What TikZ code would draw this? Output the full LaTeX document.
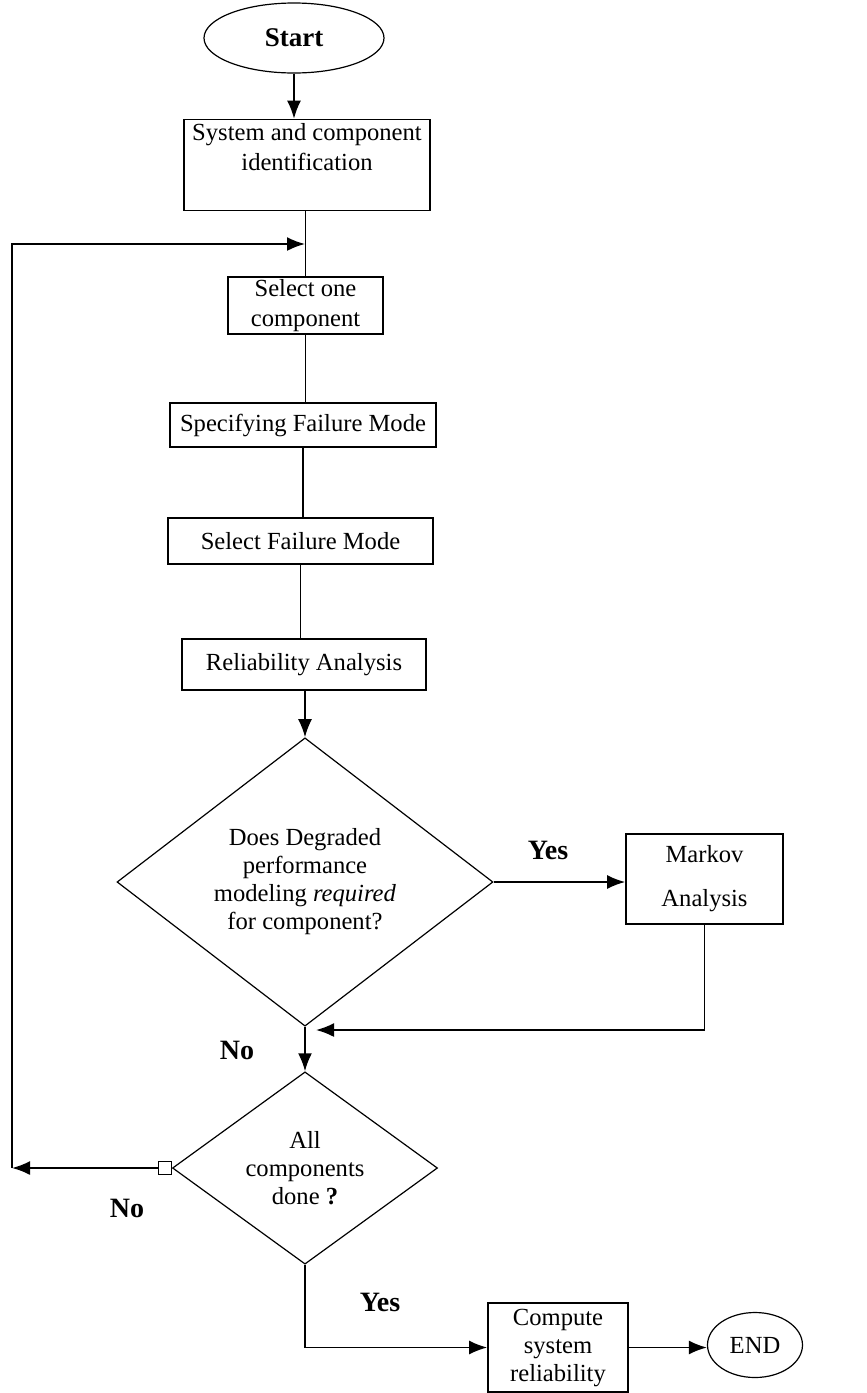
\documentclass[tikz,border=0pt]{standalone}
\usepackage{fontspec}
\setmainfont{Liberation Serif}
\usetikzlibrary{arrows.meta,shapes.geometric}

\begin{document}
\begin{tikzpicture}[x=0.5pt, y=-0.5pt,
	>={Latex[length=9pt,width=7pt]},
	box/.style={draw, line width=0.8pt, rectangle, inner sep=0pt, align=center,
		font=\fontsize{12.3}{15}\selectfont},
	term/.style={draw, line width=0.6pt, ellipse, inner sep=0pt},
	decision/.style={draw, line width=0.6pt, diamond, inner sep=0pt, align=center,
		font=\fontsize{12.3}{14}\selectfont},
	answer/.style={font=\fontsize{14}{16}\selectfont\bfseries},
	line/.style={line width=0.9pt}]

	% ---- frame

	\useasboundingbox (0,0) rectangle (867,1393);

	% ---- coordinates

	\coordinate (C1) at (294,38);
	\coordinate (C2) at (307,165);
	\coordinate (C3) at (305.5,305.5);
	\coordinate (C4) at (303,425);
	\coordinate (C5) at (300.5,541);
	\coordinate (C6) at (304,664.5);
	\coordinate (C7) at (305,882);
	\coordinate (C8) at (704.5,879);
	\coordinate (C9) at (305,1168);
	\coordinate (C10) at (558,1347.5);
	\coordinate (C11) at (755,1345);

	% -- free ends of the loops

	\coordinate (join) at (305,244);
	\coordinate (turn) at (12,244);
	\coordinate (back) at (12,1168);
	\coordinate (merge) at (316,1030);

	% ---- nodes

	\node[term, minimum width=90pt, minimum height=35pt,
		font=\fontsize{13.5}{16}\selectfont\bfseries] (start) at (C1) {Start};
	\node[box, minimum width=123pt, minimum height=45.5pt] (ident) at (C2)
		{System and component\\identification\\[3pt]};
	\node[box, minimum width=77.5pt, minimum height=28.5pt] (selone) at (C3)
		{Select one\\component};
	\node[box, minimum width=133pt, minimum height=22pt] (spec) at (C4)
		{Specifying Failure Mode};
	\node[box, minimum width=132.5pt, minimum height=23pt] (selfm) at (C5)
		{Select Failure Mode};
	\node[box, minimum width=122pt, minimum height=25.5pt] (rel) at (C6)
		{Reliability Analysis};
	\node[decision, minimum width=188pt, minimum height=122.5pt] (degr) at (C7)
		{Does Degraded\\performance\\modeling \textit{required}\\for component?};
	\node[box, minimum width=78.5pt, minimum height=45pt] (markov) at (C8)
		{Markov\\[7pt]Analysis};
	\node[decision, minimum width=132.5pt, minimum height=89pt] (done) at (C9)
		{All\\components\\done \textbf{?}};
	\node[box, minimum width=70pt, minimum height=44.5pt,
		font=\fontsize{12.3}{14}\selectfont] (comp) at (C10)
		{Compute\\system\\reliability};
	\node[term, minimum width=47.5pt, minimum height=32.5pt,
		font=\fontsize{12.3}{15}\selectfont] (endn) at (C11) {END};

	% -- connector box on the No branch

	\node[draw, line width=0.6pt, fill=white, minimum size=6.5pt, inner sep=0pt,
		anchor=east] (sq) at (done.west) {};

	% ---- main line

	\draw[line, ->] (start.south) -- (start.south |- ident.north);
	\draw[line] (selone.north |- ident.south) -- (selone.north);
	\draw[line] (selone.south) -- (selone.south |- spec.north);
	\draw[line] (spec.south) -- (spec.south |- selfm.north);
	\draw[line] (selfm.south) -- (selfm.south |- rel.north);
	\draw[line, ->] (degr.north |- rel.south) -- (degr.north);
	\draw[line, ->] (degr.south) -- (done.north);

	% ---- branches

	\draw[line, ->] (degr.east) -- (degr.east -| markov.west);
	\draw[line, ->] (markov.south) |- (merge);
	\draw[line, ->] (sq.west) -- (back);
	\draw[line, ->] (back) -- (turn) -- (join);
	\draw[line, ->] (done.south) |- (comp.west);
	\draw[line, ->] (comp.east) -- (comp.east -| endn.west);

	% ---- answer labels

	\node[answer] (yes1) at (548,850) {Yes};
	\node[answer] (no1) at (237,1050) {No};
	\node[answer] (no2) at (127,1208) {No};
	\node[answer] (yes2) at (380,1302) {Yes};

\end{tikzpicture}
\end{document}
